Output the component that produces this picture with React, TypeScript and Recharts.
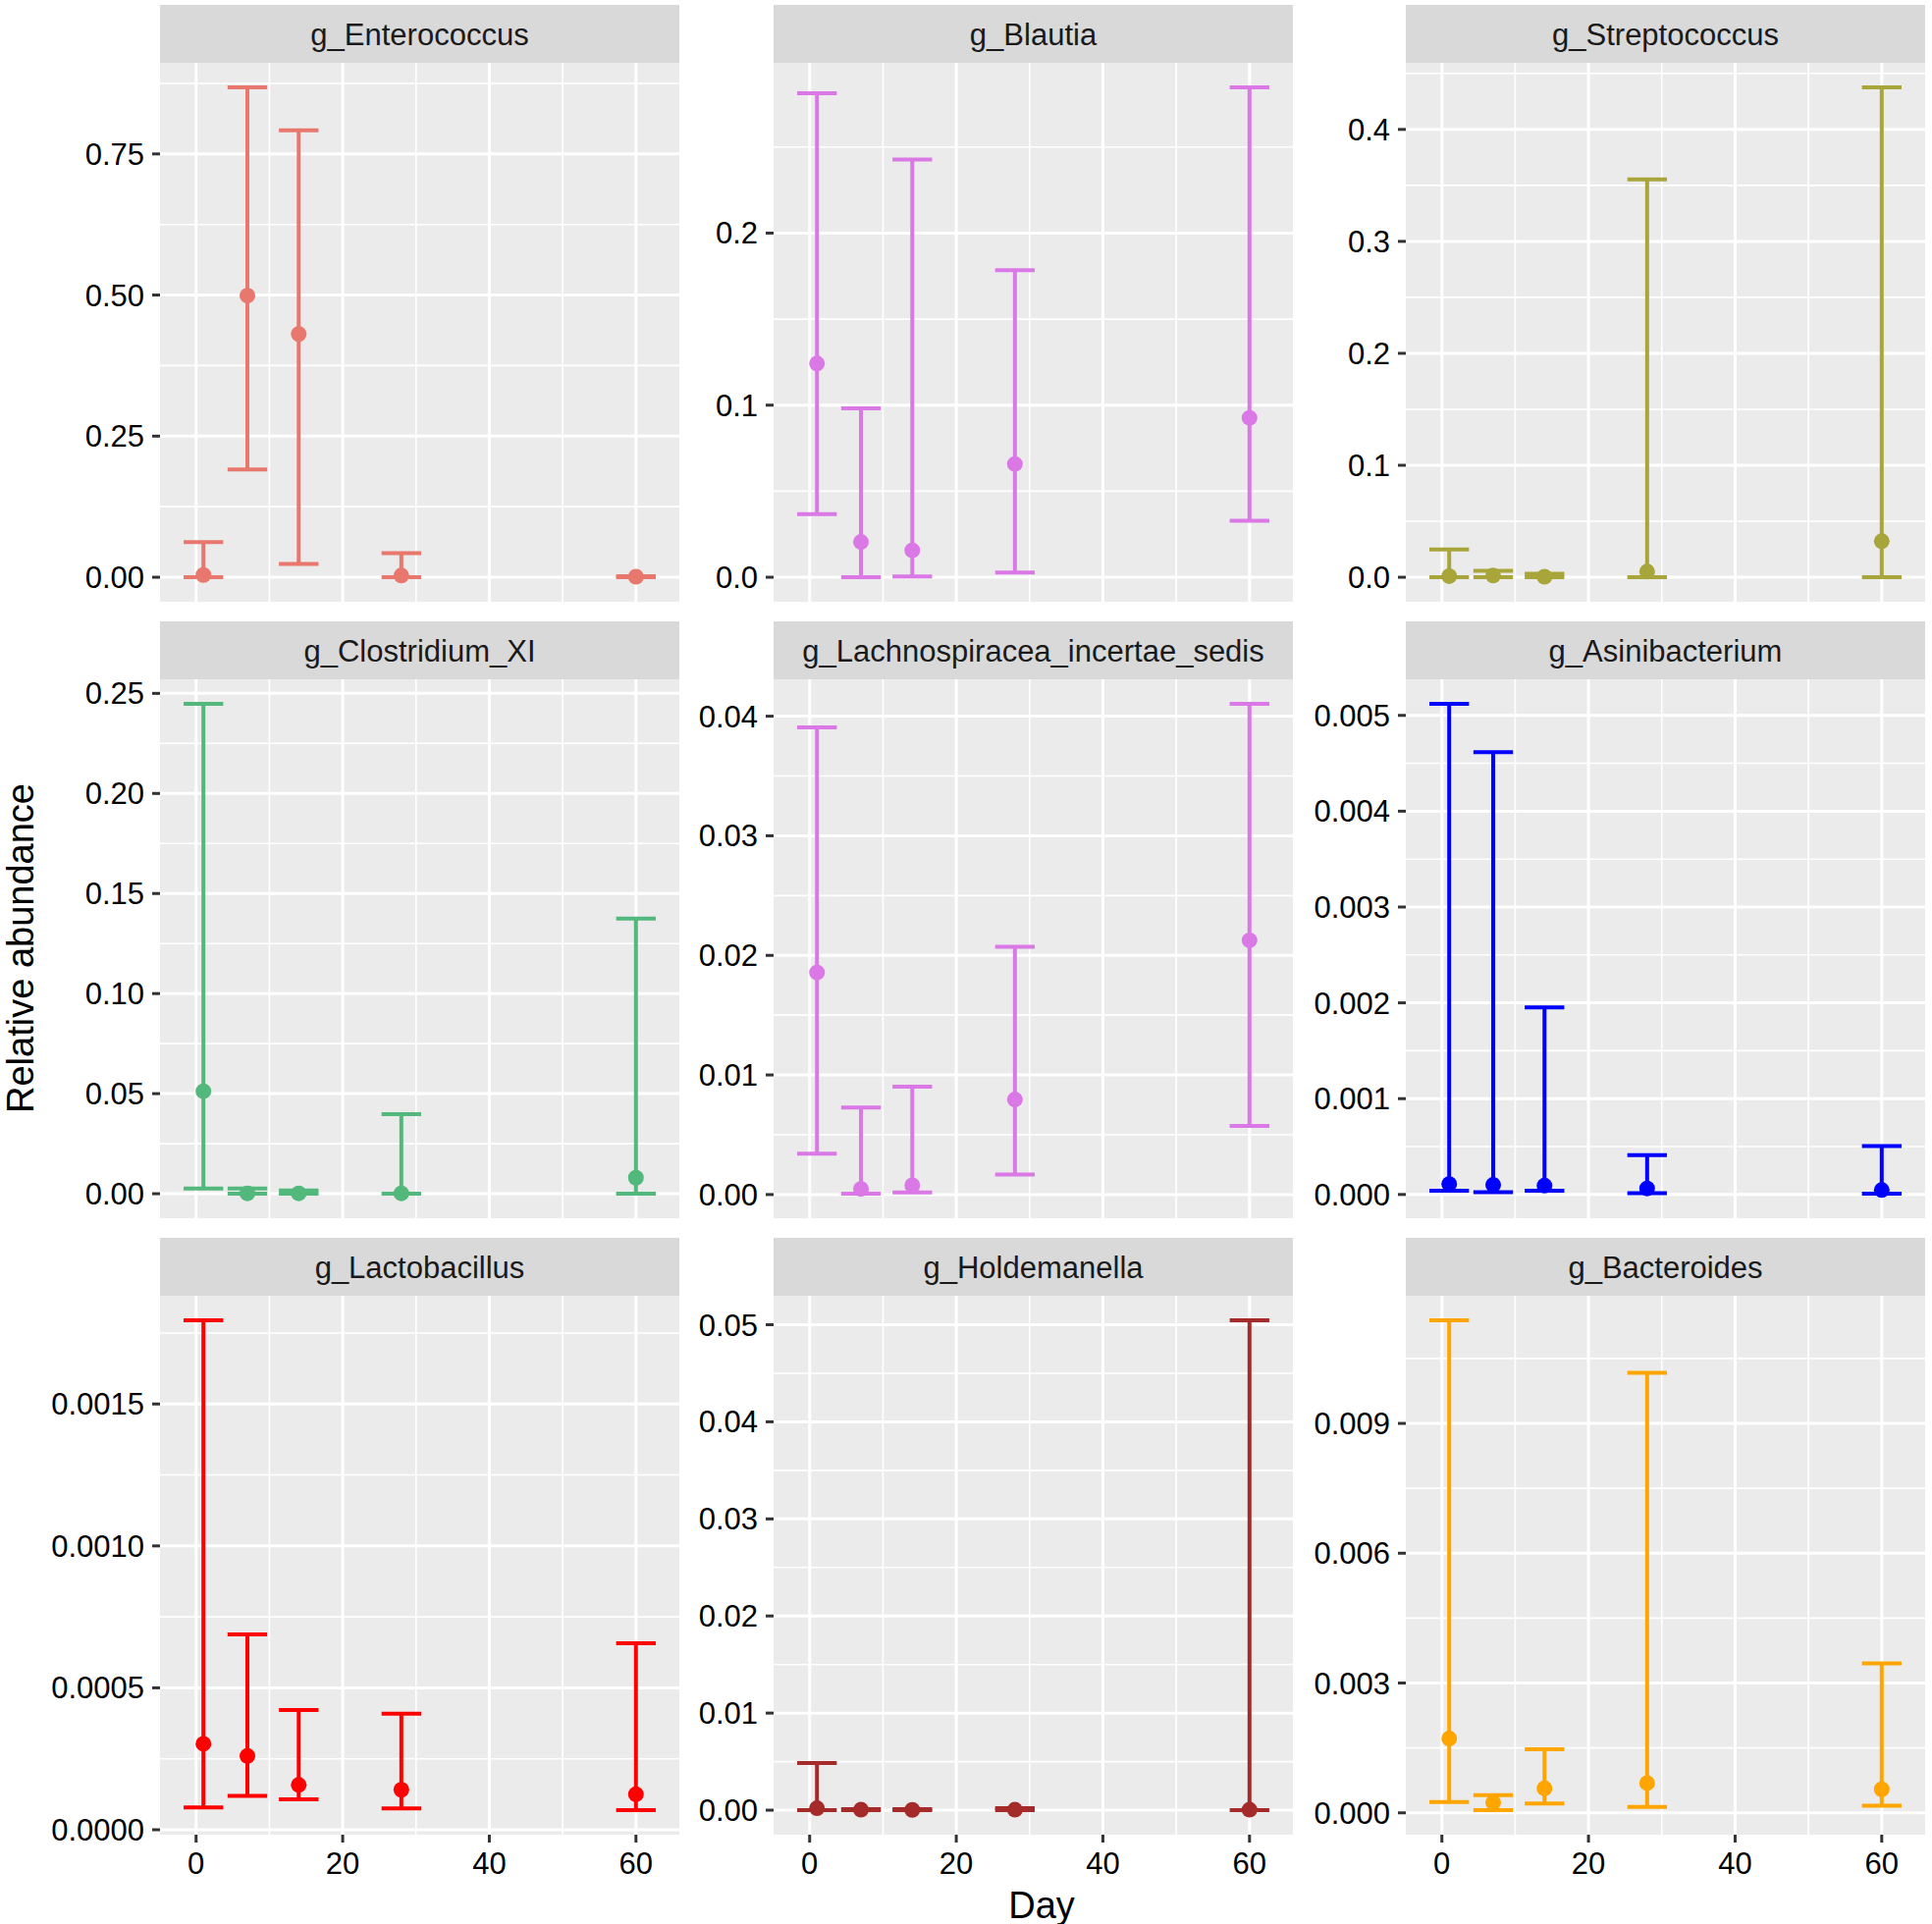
import { ComposedChart, Scatter, ErrorBar, XAxis, YAxis, CartesianGrid } from "recharts";

// sampling days (same for every genus)
const DAYS = [1, 7, 14, 28, 60];
const X_TICKS = [0, 20, 40, 60];
const X_MINOR = [10, 30, 50];

const ENTERO_MEAN = [0.004, 0.499, 0.431, 0.003, 0.001];
const ENTERO_LOW = [0.0, 0.191, 0.0234, 0.0, 0.0];
const ENTERO_HIGH = [0.0624, 0.868, 0.792, 0.0425, 0.002];

const BLAUTIA_MEAN = [0.1242, 0.0205, 0.0156, 0.0658, 0.0926];
const BLAUTIA_LOW = [0.0367, 0.0, 0.0005, 0.0028, 0.0328];
const BLAUTIA_HIGH = [0.2812, 0.0981, 0.2428, 0.1784, 0.2847];

const STREP_MEAN = [0.001, 0.0015, 0.0005, 0.005, 0.0322];
const STREP_LOW = [0, 0, 0, 0, 0];
const STREP_HIGH = [0.0247, 0.0057, 0.003, 0.3553, 0.4376];

const CLOST_MEAN = [0.0512, 0.0002, 0.0002, 0.0002, 0.008];
const CLOST_LOW = [0.0026, 0, 0, 0, 0];
const CLOST_HIGH = [0.2448, 0.0026, 0.0016, 0.0398, 0.1375];

const LACHNO_MEAN = [0.01857, 0.00047, 0.00077, 0.00795, 0.02126];
const LACHNO_LOW = [0.00342, 0.00007, 0.00017, 0.00168, 0.00573];
const LACHNO_HIGH = [0.03906, 0.00728, 0.00902, 0.02072, 0.04104];

const ASINI_MEAN = [0.000109, 0.0001, 0.000092, 0.000063, 0.000046];
const ASINI_LOW = [0.000038, 0.000025, 0.000038, 0.000013, 0.000008];
const ASINI_HIGH = [0.005121, 0.004615, 0.001952, 0.00041, 0.000506];

const LACTO_MEAN = [0.000303, 0.00026, 0.000158, 0.000141, 0.000125];
const LACTO_LOW = [0.0000784, 0.000119, 0.000107, 0.0000752, 0.000069];
const LACTO_HIGH = [0.001795, 0.000688, 0.000422, 0.000409, 0.000657];

const HOLDE_MEAN = [0.0002, 0.00005, 0.00003, 0.00005, 0.00005];
const HOLDE_LOW = [0, 0, 0, 0, 0];
const HOLDE_HIGH = [0.00486, 0.0001, 0.0001, 0.0002, 0.05046];

const BACTERO_MEAN = [0.001716, 0.000236, 0.000565, 0.000688, 0.000545];
const BACTERO_LOW = [0.000247, 0.0000616, 0.000216, 0.000134, 0.000164];
const BACTERO_HIGH = [0.011384, 0.000411, 0.001469, 0.010171, 0.003452];

// y ticks per panel
const TICKS_1 = [0, 0.25, 0.5, 0.75];
const LABELS_1 = ["0.00", "0.25", "0.50", "0.75"];
const MINOR_1 = [0.125, 0.375, 0.625, 0.875];
const TICKS_2 = [0, 0.1, 0.2];
const LABELS_2 = ["0.0", "0.1", "0.2"];
const MINOR_2 = [0.05, 0.15, 0.25];
const TICKS_3 = [0, 0.1, 0.2, 0.3, 0.4];
const LABELS_3 = ["0.0", "0.1", "0.2", "0.3", "0.4"];
const MINOR_3 = [0.05, 0.15, 0.25, 0.35, 0.45];
const TICKS_4 = [0, 0.05, 0.1, 0.15, 0.2, 0.25];
const LABELS_4 = ["0.00", "0.05", "0.10", "0.15", "0.20", "0.25"];
const MINOR_4 = [0.025, 0.075, 0.125, 0.175, 0.225];
const TICKS_5 = [0, 0.01, 0.02, 0.03, 0.04];
const LABELS_5 = ["0.00", "0.01", "0.02", "0.03", "0.04"];
const MINOR_5 = [0.005, 0.015, 0.025, 0.035];
const TICKS_6 = [0, 0.001, 0.002, 0.003, 0.004, 0.005];
const LABELS_6 = ["0.000", "0.001", "0.002", "0.003", "0.004", "0.005"];
const MINOR_6 = [0.0005, 0.0015, 0.0025, 0.0035, 0.0045];
const TICKS_7 = [0, 0.0005, 0.001, 0.0015];
const LABELS_7 = ["0.0000", "0.0005", "0.0010", "0.0015"];
const MINOR_7 = [0.00025, 0.00075, 0.00125, 0.00175];
const TICKS_8 = [0, 0.01, 0.02, 0.03, 0.04, 0.05];
const LABELS_8 = ["0.00", "0.01", "0.02", "0.03", "0.04", "0.05"];
const MINOR_8 = [0.005, 0.015, 0.025, 0.035, 0.045];
const TICKS_9 = [0, 0.003, 0.006, 0.009];
const LABELS_9 = ["0.000", "0.003", "0.006", "0.009"];
const MINOR_9 = [0.0015, 0.0045, 0.0075, 0.0105];

const panels = [
  { name: "g_Enterococcus", color: "#E8786D", mean: ENTERO_MEAN, low: ENTERO_LOW, high: ENTERO_HIGH, ticks: TICKS_1, labels: LABELS_1, minor: MINOR_1 },
  { name: "g_Blautia", color: "#DA78E6", mean: BLAUTIA_MEAN, low: BLAUTIA_LOW, high: BLAUTIA_HIGH, ticks: TICKS_2, labels: LABELS_2, minor: MINOR_2 },
  { name: "g_Streptococcus", color: "#A8A53A", mean: STREP_MEAN, low: STREP_LOW, high: STREP_HIGH, ticks: TICKS_3, labels: LABELS_3, minor: MINOR_3 },
  { name: "g_Clostridium_XI", color: "#52B87C", mean: CLOST_MEAN, low: CLOST_LOW, high: CLOST_HIGH, ticks: TICKS_4, labels: LABELS_4, minor: MINOR_4 },
  { name: "g_Lachnospiracea_incertae_sedis", color: "#DA78E6", mean: LACHNO_MEAN, low: LACHNO_LOW, high: LACHNO_HIGH, ticks: TICKS_5, labels: LABELS_5, minor: MINOR_5 },
  { name: "g_Asinibacterium", color: "#0000FF", mean: ASINI_MEAN, low: ASINI_LOW, high: ASINI_HIGH, ticks: TICKS_6, labels: LABELS_6, minor: MINOR_6 },
  { name: "g_Lactobacillus", color: "#FF0000", mean: LACTO_MEAN, low: LACTO_LOW, high: LACTO_HIGH, ticks: TICKS_7, labels: LABELS_7, minor: MINOR_7 },
  { name: "g_Holdemanella", color: "#A52A2A", mean: HOLDE_MEAN, low: HOLDE_LOW, high: HOLDE_HIGH, ticks: TICKS_8, labels: LABELS_8, minor: MINOR_8 },
  { name: "g_Bacteroides", color: "#FFA500", mean: BACTERO_MEAN, low: BACTERO_LOW, high: BACTERO_HIGH, ticks: TICKS_9, labels: LABELS_9, minor: MINOR_9 },
];

const FONT = "'Liberation Sans', Arial, Helvetica, sans-serif";
const COL_LEFT = [163, 788, 1432];
const ROW_TOP = [64, 692, 1320];
const PLOT_W = 529;
const PLOT_H = 549;
const STRIP_H = 59;
const Y_AXIS_W = 120;
const X_AXIS_H = 60;
const TOP_PAD = 10;

// errorbar cap half width in days, ggplot-style 5% expansion
const CAP_DAYS = 2.7;
const xLo = Math.min(...DAYS) - CAP_DAYS;
const xHi = Math.max(...DAYS) + CAP_DAYS;
const X_DOMAIN = [xLo - 0.05 * (xHi - xLo), xHi + 0.05 * (xHi - xLo)];
const CAP_PX = (CAP_DAYS * PLOT_W) / (X_DOMAIN[1] - X_DOMAIN[0]);

const Panel = ({ p, col, row }: any) => {
  const showX = row === 2;
  const data = DAYS.map((d, i) => ({
    day: d,
    mean: p.mean[i],
    err: [p.mean[i] - p.low[i], p.high[i] - p.mean[i]],
  }));
  const lo = Math.min(...p.low, ...p.mean);
  const hi = Math.max(...p.high, ...p.mean);
  const yDomain = [lo - 0.05 * (hi - lo), hi + 0.05 * (hi - lo)];
  const left = COL_LEFT[col];
  const top = ROW_TOP[row];

  return (
    <>
      <div
        style={{
          position: "absolute",
          left,
          top: top - STRIP_H,
          width: PLOT_W,
          height: STRIP_H,
          background: "#D9D9D9",
          color: "#1A1A1A",
          fontSize: 31,
          lineHeight: `${STRIP_H + 2}px`,
          textAlign: "center",
          whiteSpace: "nowrap",
        }}
      >
        {p.name}
      </div>
      <div style={{ position: "absolute", left: left - Y_AXIS_W, top: top - TOP_PAD }}>
        <ComposedChart
          width={Y_AXIS_W + PLOT_W}
          height={TOP_PAD + PLOT_H + (showX ? X_AXIS_H : 0)}
          data={data}
          margin={{ top: TOP_PAD, right: 0, bottom: 0, left: 0 }}
        >
          <CartesianGrid fill="#EBEBEB" stroke="#FFFFFF" strokeWidth={1.6} horizontalValues={p.minor} verticalValues={X_MINOR} />
          <CartesianGrid stroke="#FFFFFF" strokeWidth={3} horizontalValues={p.ticks} verticalValues={X_TICKS} />
          <XAxis
            type="number"
            dataKey="day"
            domain={X_DOMAIN}
            ticks={X_TICKS}
            allowDataOverflow
            hide={!showX}
            height={X_AXIS_H}
            axisLine={false}
            tickSize={8}
            tickMargin={10}
            tickLine={{ stroke: "#333333", strokeWidth: 3 }}
            tick={{ fill: "#000000", fontSize: 31, fontFamily: FONT }}
          />
          <YAxis
            type="number"
            domain={yDomain}
            ticks={p.ticks}
            allowDataOverflow
            width={Y_AXIS_W}
            axisLine={false}
            tickSize={8}
            tickMargin={8}
            tickLine={{ stroke: "#333333", strokeWidth: 3 }}
            tick={{ fill: "#000000", fontSize: 31, fontFamily: FONT }}
            tickFormatter={(v: number) => p.labels[p.ticks.indexOf(v)] ?? String(v)}
          />
          <Scatter
            dataKey="mean"
            fill={p.color}
            isAnimationActive={false}
            shape={(s: any) => <circle cx={s.cx} cy={s.cy} r={8} fill={p.color} />}
          >
            <ErrorBar
              dataKey="err"
              direction="y"
              width={CAP_PX}
              stroke={p.color}
              strokeWidth={4}
              isAnimationActive={false}
            />
          </Scatter>
        </ComposedChart>
      </div>
    </>
  );
};

export default function App() {
  return (
    <div
      style={{
        position: "absolute",
        left: 0,
        top: 0,
        width: 1968,
        height: 1960,
        background: "#FFFFFF",
        fontFamily: FONT,
        overflow: "hidden",
      }}
    >
      {panels.map((p, i) => (
        <Panel key={p.name} p={p} col={i % 3} row={Math.floor(i / 3)} />
      ))}
      <div
        style={{
          position: "absolute",
          left: 21,
          top: 966,
          transform: "translate(-50%, -50%) rotate(-90deg)",
          fontSize: 38,
          color: "#000000",
          whiteSpace: "nowrap",
        }}
      >
        Relative abundance
      </div>
      <div
        style={{
          position: "absolute",
          left: 1061,
          top: 1941,
          transform: "translate(-50%, -50%)",
          fontSize: 38,
          color: "#000000",
          whiteSpace: "nowrap",
        }}
      >
        Day
      </div>
    </div>
  );
}
